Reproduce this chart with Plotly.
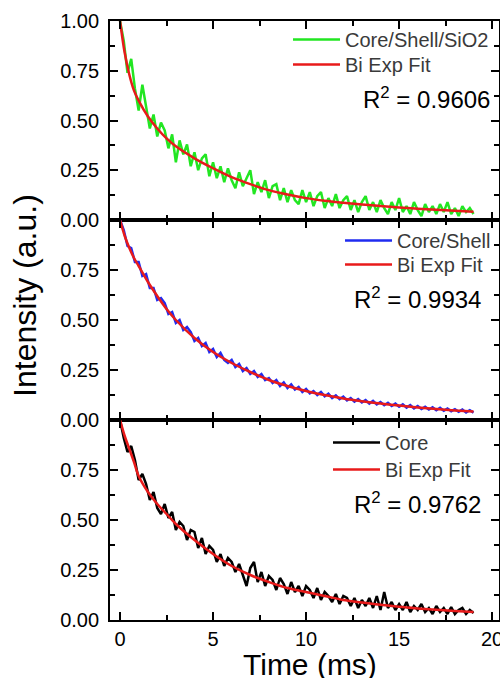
import plotly.graph_objects as go

# ---------------- data ----------------
time_ms = [0.0, 0.2, 0.4, 0.6, 0.8, 1.0, 1.2, 1.4, 1.6, 1.8,
           2.0, 2.2, 2.4, 2.6, 2.8, 3.0, 3.2, 3.4, 3.6, 3.8,
           4.0, 4.2, 4.4, 4.6, 4.8, 5.0, 5.2, 5.4, 5.6, 5.8,
           6.0, 6.2, 6.4, 6.6, 6.8, 7.0, 7.2, 7.4, 7.6, 7.8,
           8.0, 8.2, 8.4, 8.6, 8.8, 9.0, 9.2, 9.4, 9.6, 9.8,
           10.0, 10.2, 10.4, 10.6, 10.8, 11.0, 11.2, 11.4, 11.6, 11.8,
           12.0, 12.2, 12.4, 12.6, 12.8, 13.0, 13.2, 13.4, 13.6, 13.8,
           14.0, 14.2, 14.4, 14.6, 14.8, 15.0, 15.2, 15.4, 15.6, 15.8,
           16.0, 16.2, 16.4, 16.6, 16.8, 17.0, 17.2, 17.4, 17.6, 17.8,
           18.0, 18.2, 18.4, 18.6, 18.8, 19.0]

core_shell_sio2 = [1.00, 0.90, 0.74, 0.81, 0.66, 0.55, 0.68, 0.58, 0.46, 0.53,
                   0.42, 0.49, 0.45, 0.36, 0.43, 0.29, 0.40, 0.33, 0.38, 0.27,
                   0.34, 0.25, 0.31, 0.33, 0.22, 0.29, 0.21, 0.27, 0.19, 0.26,
                   0.20, 0.16, 0.24, 0.17, 0.21, 0.25, 0.13, 0.19, 0.14, 0.20,
                   0.11, 0.17, 0.18, 0.10, 0.16, 0.09, 0.15, 0.10, 0.08, 0.15,
                   0.09, 0.14, 0.07, 0.12, 0.14, 0.06, 0.11, 0.07, 0.13, 0.06,
                   0.10, 0.12, 0.05, 0.10, 0.04, 0.09, 0.12, 0.05, 0.09, 0.04,
                   0.10, 0.06, 0.03, 0.09, 0.05, 0.11, 0.04, 0.07, 0.03, 0.09,
                   0.05, 0.02, 0.08, 0.04, 0.07, 0.03, 0.08, 0.04, 0.09, 0.03,
                   0.06, 0.02, 0.07, 0.04, 0.06, 0.03]

core_shell = [1.00, 0.95, 0.87, 0.86, 0.79, 0.79, 0.72, 0.73, 0.66, 0.66,
              0.60, 0.61, 0.585, 0.53, 0.54, 0.485, 0.50, 0.45, 0.465, 0.44,
              0.395, 0.41, 0.37, 0.385, 0.34, 0.355, 0.315, 0.335, 0.30, 0.285,
              0.30, 0.265, 0.28, 0.245, 0.26, 0.23, 0.245, 0.215, 0.23, 0.20,
              0.21, 0.185, 0.20, 0.17, 0.188, 0.16, 0.178, 0.152, 0.165, 0.14,
              0.155, 0.133, 0.145, 0.125, 0.14, 0.118, 0.132, 0.11, 0.123, 0.104,
              0.117, 0.098, 0.11, 0.092, 0.105, 0.088, 0.10, 0.082, 0.096, 0.078,
              0.09, 0.074, 0.086, 0.07, 0.082, 0.066, 0.078, 0.062, 0.075, 0.058,
              0.07, 0.055, 0.066, 0.052, 0.064, 0.049, 0.061, 0.046, 0.057, 0.044,
              0.054, 0.041, 0.052, 0.038, 0.049, 0.037]

core = [1.00, 0.91, 0.84, 0.87, 0.80, 0.70, 0.73, 0.68, 0.60, 0.64,
        0.56, 0.53, 0.58, 0.51, 0.54, 0.45, 0.49, 0.47, 0.40, 0.45,
        0.44, 0.36, 0.41, 0.33, 0.37, 0.35, 0.29, 0.33, 0.27, 0.31,
        0.29, 0.24, 0.28, 0.22, 0.17, 0.26, 0.29, 0.19, 0.24, 0.17,
        0.22, 0.20, 0.15, 0.21, 0.18, 0.13, 0.19, 0.14, 0.17, 0.12,
        0.17, 0.15, 0.11, 0.16, 0.10, 0.14, 0.12, 0.09, 0.13, 0.08,
        0.12, 0.11, 0.07, 0.11, 0.06, 0.10, 0.07, 0.11, 0.06, 0.12,
        0.05, 0.14, 0.06, 0.09, 0.05, 0.08, 0.05, 0.09, 0.04, 0.07,
        0.05, 0.08, 0.04, 0.06, 0.03, 0.07, 0.04, 0.06, 0.03, 0.065,
        0.03, 0.05, 0.06, 0.03, 0.05, 0.035]

fit_time = [0, 0.25, 0.5, 0.75, 1, 1.5, 2, 2.5, 3, 4, 5, 6, 7, 8, 9, 10,
            11, 12, 13, 14, 15, 16, 17, 18, 19]
fit_core_shell_sio2 = [1.00, 0.84, 0.73, 0.65, 0.60, 0.52, 0.46, 0.41, 0.37, 0.31, 0.26,
                       0.215, 0.18, 0.15, 0.128, 0.11, 0.097, 0.087, 0.078, 0.07, 0.063,
                       0.057, 0.051, 0.046, 0.042]
fit_core_shell = [1.00, 0.92, 0.86, 0.81, 0.77, 0.69, 0.62, 0.555, 0.50, 0.41, 0.34,
                  0.285, 0.24, 0.20, 0.17, 0.145, 0.125, 0.108, 0.094, 0.082, 0.072,
                  0.063, 0.055, 0.048, 0.042]
fit_core = [1.00, 0.92, 0.855, 0.79, 0.72, 0.64, 0.58, 0.53, 0.48, 0.40, 0.33,
            0.27, 0.225, 0.19, 0.16, 0.14, 0.12, 0.10, 0.088, 0.076, 0.066,
            0.058, 0.051, 0.045, 0.04]

series_names = ["Core/Shell/SiO2", "Core/Shell", "Core"]
fit_name = "Bi Exp Fit"
r2_labels = ["R<sup>2</sup> = 0.9606", "R<sup>2</sup> = 0.9934", "R<sup>2</sup> = 0.9762"]
x_ticks = [0, 5, 10, 15, 20]
y_ticks_top = [0, 0.25, 0.5, 0.75, 1.0]
y_ticks_lower = [0, 0.25, 0.5, 0.75]

# ---------------- figure ----------------
FONT = "Liberation Sans"
data_sets = [core_shell_sio2, core_shell, core]
fit_sets = [fit_core_shell_sio2, fit_core_shell, fit_core]
colors = ["#22e622", "#1f2bf0", "#000000"]
fit_color = "#e81a1a"
xa = ["x", "x2", "x3"]
ya = ["y", "y2", "y3"]
# one legend box per entry: (data legend, fit legend) for each panel
legend_ids = [("legend", "legend2"), ("legend3", "legend4"), ("legend5", "legend6")]

fig = go.Figure()
for i in range(3):
    fig.add_trace(go.Scatter(x=time_ms, y=data_sets[i], mode="lines", name=series_names[i],
                             line=dict(color=colors[i], width=2.5),
                             xaxis=xa[i], yaxis=ya[i], legend=legend_ids[i][0]))
    fig.add_trace(go.Scatter(x=fit_time, y=fit_sets[i], mode="lines", name=fit_name,
                             line=dict(color=fit_color, width=2.5, shape="spline"),
                             xaxis=xa[i], yaxis=ya[i], legend=legend_ids[i][1]))

H = 599.0
domains = [[400 / H, 1.0], [200 / H, 400 / H], [0.0, 200 / H]]

axis_common = dict(showline=True, linecolor="black", linewidth=1.75, mirror="allticks",
                   ticks="inside", ticklen=8, tickwidth=2, tickcolor="black",
                   showgrid=False, zeroline=False)

layout = dict(
    width=500, height=678,
    margin=dict(l=110, r=1, t=21, b=58, autoexpand=False),
    paper_bgcolor="white", plot_bgcolor="white",
    font=dict(family=FONT, color="black", size=20),
    showlegend=True,
)
for i in range(3):
    xkey = "xaxis" if i == 0 else f"xaxis{i+1}"
    ykey = "yaxis" if i == 0 else f"yaxis{i+1}"
    xd = dict(axis_common, range=[-0.54, 20.37], tickvals=x_ticks,
              minor=dict(ticks="inside", tickvals=[2.5, 7.5, 12.5, 17.5], ticklen=5,
                         tickwidth=2, tickcolor="black"),
              anchor=ya[i], domain=[0, 1], showticklabels=(i == 2),
              ticklabeloverflow="allow",
              tickfont=dict(size=20, family=FONT))
    if i > 0:
        xd["matches"] = "x"
    layout[xkey] = xd
    tv = y_ticks_top if i == 0 else y_ticks_lower
    layout[ykey] = dict(axis_common, range=[0, 1], domain=domains[i], anchor=xa[i],
                        tickvals=tv, tickformat=".2f", ticklabelstandoff=5,
                        minor=dict(ticks="inside", tickvals=[0.125, 0.375, 0.625, 0.875],
                                   ticklen=5, tickwidth=2, tickcolor="black"),
                        tickfont=dict(size=20, family=FONT))

# legend box (left, top) positions in paper coordinates
legend_pos = [[(0.4576, 1.0016), (0.4576, 0.9599)],
              [(0.5913, 0.6661), (0.5913, 0.6260)],
              [(0.5604, 0.3288), (0.5604, 0.2838)]]
for i in range(3):
    for j in range(2):
        layout[legend_ids[i][j]] = dict(x=legend_pos[i][j][0], y=legend_pos[i][j][1],
                                        xanchor="left", yanchor="top",
                                        bgcolor="rgba(0,0,0,0)", borderwidth=0,
                                        font=dict(size=20, family=FONT, color="#3a3a3a"),
                                        itemwidth=47)

fig.update_layout(**layout)

r2_pos = [(0.982, 0.8715), (0.959, 0.5376), (0.959, 0.1953)]
for i in range(3):
    fig.add_annotation(text=r2_labels[i], xref="paper", yref="paper",
                       x=r2_pos[i][0], y=r2_pos[i][1], xanchor="right", yanchor="middle",
                       showarrow=False, font=dict(size=24, family=FONT, color="black"))

fig.add_annotation(text="Intensity (a.u.)", textangle=-90, xref="paper", yref="paper",
                   x=-0.2185, y=0.541, xanchor="center", yanchor="middle", showarrow=False,
                   font=dict(size=32, family=FONT, color="black"))
fig.add_annotation(text="Time (ms)", xref="paper", yref="paper",
                   x=0.514, y=-0.0735, xanchor="center", yanchor="middle", showarrow=False,
                   font=dict(size=30, family=FONT, color="black"))

fig.write_html("out.html", config={"displayModeBar": False},
               post_script="document.body.style.margin='0px';")
